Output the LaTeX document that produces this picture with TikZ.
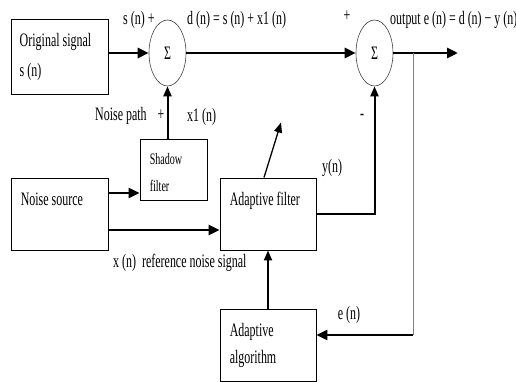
\documentclass[tikz,border=0pt]{standalone}
\usepackage{fontspec}
\setmainfont{Liberation Serif}[FakeStretch=0.63]
\usepackage{tikz}
\usetikzlibrary{arrows.meta, positioning, shapes.geometric}

\tikzset{
  blk/.style={shape=rectangle, draw, line width=0.9pt, inner sep=0pt},
  sumnode/.style={shape=ellipse, draw=black!75, line width=0.6pt, minimum width=37pt, minimum height=66pt, inner sep=0pt, font=\fontsize{19}{19}\selectfont},
  txt/.style={inner sep=0pt, align=left, font=\fontsize{19}{30}\selectfont},
  lbl/.style={inner sep=0pt, font=\fontsize{19}{19}\selectfont},
  bus/.style={line width=2.8pt, -{Triangle[length=11pt, width=10pt]}},
  wire/.style={line width=2pt, -{Triangle[length=10pt, width=8pt]}},
}

\begin{document}
\begin{tikzpicture}[x=1pt, y=-1pt]
  \useasboundingbox (0, 0) rectangle (516, 382);
  % Paths, nodes and wires:
  \node[blk, minimum width=97pt, minimum height=75pt](orig) at (59.5, 56.5){};
  \node[txt, below right=15pt and 9pt of orig.north west](origtxt){Original signal\\s (n)};
  \node[sumnode](sum1) at (167.5, 53){Σ};
  \node[sumnode](sum2) at (374.5, 53){Σ};
  \node[blk, minimum width=67pt, minimum height=61pt](shadow) at (173.5, 169.5){};
  \node[txt, font=\fontsize{16}{27}\selectfont, below right=15pt and 10pt of shadow.north west](shadowtxt){Shadow\\filter};
  \node[blk, minimum width=97pt, minimum height=72pt](noise) at (59.5, 214){};
  \node[txt, below right=15pt and 10pt of noise.north west](noisetxt){Noise source};
  \node[blk, minimum width=96pt, minimum height=72pt](adf) at (268, 214){};
  \node[txt, below right=14pt and 10pt of adf.north west](adftxt){Adaptive filter};
  \node[blk, minimum width=96pt, minimum height=72pt](alg) at (268, 345){};
  \node[txt, font=\fontsize{19}{27}\selectfont, below right=15pt and 10pt of alg.north west](algtxt){Adaptive\\algorithm};
  \coordinate (out) at (458, 53);
  \coordinate (tap) at (413, 53);
  \coordinate (eturn) at (413, 335);
  \coordinate (n1) at ([yshift=21pt]noise.east);
  \coordinate (n2) at ([yshift=-16pt]noise.east);
  \draw[bus] (orig.east |- sum1.west) -- (sum1.west);
  \draw[bus] (sum1.east) -- (sum2.west);
  \draw[bus] (sum2.east) -- (out);
  \draw[line width=1pt, black!50] (tap) -- (eturn);
  \draw[bus] (eturn) -- (eturn -| alg.east);
  \draw[wire] (sum1.south |- shadow.north) -- (sum1.south);
  \draw[bus] (n1) -- (n1 -| shadow.west);
  \draw[bus] (n2) -- (n2 -| adf.west);
  \draw[wire] (adf.east) -| (sum2.south);
  \draw[line width=1.3pt, -{Triangle[length=10pt, width=8pt]}] ([xshift=-4pt]adf.north) -- ++(17, -55);
  \draw[wire] (alg.north) -- (adf.south);
  \node[lbl, anchor=west](lsin) at (123, 20){s (n) +};
  \node[lbl, anchor=west](ldn) at (187, 20){d (n) = s (n) + x1 (n)};
  \node[lbl](lplus) at (347, 16){+};
  \node[lbl, anchor=west](lout) at (390, 20){output e (n) = d (n) − y (n)};
  \node[lbl, anchor=west](lpath) at (95, 116){Noise path};
  \node[lbl](lplusb) at (161, 115){+};
  \node[lbl, anchor=west](lxone) at (187, 117){x1 (n)};
  \node[lbl](lminus) at (362, 117){-};
  \node[lbl, anchor=west](lyn) at (322, 168){y(n)};
  \node[lbl, anchor=west](lxn) at (113, 263){x (n)\ \ reference noise signal};
  \node[lbl](len) at (349, 315){e (n)};
\end{tikzpicture}
\end{document}
